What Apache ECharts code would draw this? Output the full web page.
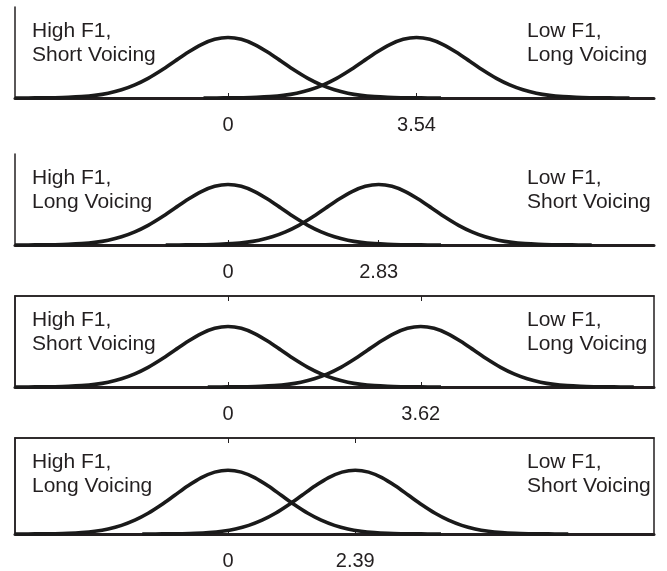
<!DOCTYPE html>
<html><head><meta charset="utf-8">
<script src="https://cdn.jsdelivr.net/npm/echarts@6/dist/echarts.min.js"></script>
<style>html,body{margin:0;padding:0;background:#fff}#c{width:667px;height:571px}</style>
</head><body><div id="c"></div>
<script>
// ---- data ----
var means = [3.54, 2.83, 3.62, 2.39];
var leftLabels = ["High F1,\nShort Voicing", "High F1,\nLong Voicing", "High F1,\nShort Voicing", "High F1,\nLong Voicing"];
var rightLabels = ["Low F1,\nLong Voicing", "Low F1,\nShort Voicing", "Low F1,\nLong Voicing", "Low F1,\nShort Voicing"];
// curve shape: height at offsets from the peak
var shapeOffsets = [-4, -3.75, -3.5, -3.25, -3, -2.75, -2.5, -2.25, -2, -1.75, -1.5, -1.25, -1, -0.75, -0.5, -0.25, 0,
                    0.25, 0.5, 0.75, 1, 1.25, 1.5, 1.75, 2, 2.25, 2.5, 2.75, 3, 3.25, 3.5, 3.75, 4];
var shapeHeights = [0.0001, 0.0004, 0.0009, 0.002, 0.0044, 0.0091, 0.0175, 0.0317, 0.054, 0.0863, 0.1295, 0.1826, 0.242, 0.3011, 0.3521, 0.3867, 0.3989,
                    0.3867, 0.3521, 0.3011, 0.242, 0.1826, 0.1295, 0.0863, 0.054, 0.0317, 0.0175, 0.0091, 0.0044, 0.002, 0.0009, 0.0004, 0.0001];
var xMin = -4, xMax = 8, yMax = 0.6;

// ---- layout ----
var gridTops = [7, 154, 296, 438];
var gridHeights = [91, 91, 91, 97];
var boxed = [false, false, true, true];
var ink = '#231f20';
var font = 'Liberation Sans, Arial, sans-serif';

var grids = [], xAxes = [], yAxes = [], series = [], titles = [];
means.forEach(function (m, i) {
  grids.push({left: 15, width: 639, top: gridTops[i], height: gridHeights[i],
    show: boxed[i], borderColor: ink, borderWidth: 1.5, backgroundColor: 'transparent'});
  var ticks = [0, m];
  xAxes.push({type: 'value', gridIndex: i, min: xMin, max: xMax, position: 'bottom',
    axisLine: {show: true, onZero: false, lineStyle: {color: ink, width: 3}},
    axisTick: {show: true, inside: true, length: 5, customValues: ticks, lineStyle: {color: ink, width: 1}},
    axisLabel: {show: true, customValues: ticks, margin: 17, color: ink, fontSize: 20, fontFamily: font},
    splitLine: {show: false}});
  yAxes.push({type: 'value', gridIndex: i, min: 0, max: yMax,
    axisLine: {show: true, onZero: false, lineStyle: {color: ink, width: 1.5}},
    axisTick: {show: false}, axisLabel: {show: false}, splitLine: {show: false}});
  if (boxed[i]) {
    xAxes.push({type: 'value', gridIndex: i, min: xMin, max: xMax, position: 'top',
      axisLine: {show: true, onZero: false, lineStyle: {color: ink, width: 1.5}},
      axisTick: {show: true, inside: true, length: 5, customValues: ticks, lineStyle: {color: ink, width: 1}},
      axisLabel: {show: false}, splitLine: {show: false}});
  }
  var xIdx = xAxes.length - (boxed[i] ? 2 : 1);
  [0, m].forEach(function (center) {
    series.push({type: 'line', xAxisIndex: xIdx, yAxisIndex: i, smooth: 0.3,
      showSymbol: false, symbol: 'none', silent: true, clip: true,
      lineStyle: {color: '#1a1a1a', width: 3.6},
      data: shapeOffsets.map(function (o, k) { return [center + o, shapeHeights[k]]; })});
  });
  var tStyle = {color: ink, fontSize: 21, fontWeight: 'normal', lineHeight: 24, fontFamily: font};
  titles.push({text: leftLabels[i], left: 32, top: gridTops[i] + 12, padding: 0, textStyle: tStyle});
  titles.push({text: rightLabels[i], left: 527, top: gridTops[i] + 12, padding: 0, textStyle: tStyle});
});

var chart = echarts.init(document.getElementById('c'), null, {renderer: 'canvas'});
chart.setOption({animation: false, backgroundColor: '#fff', title: titles,
  grid: grids, xAxis: xAxes, yAxis: yAxes, series: series});
</script></body></html>
